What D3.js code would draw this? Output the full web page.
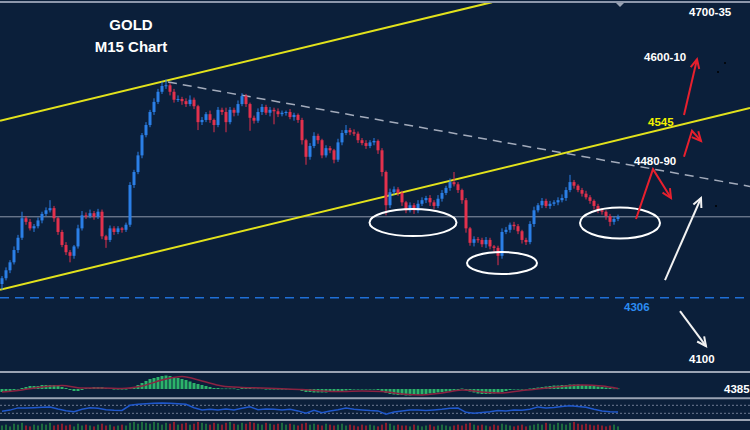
<!DOCTYPE html>
<html><head><meta charset="utf-8">
<script src="https://cdn.jsdelivr.net/npm/d3@7"></script>
<style>html,body{margin:0;padding:0;background:#0b1f3a;overflow:hidden}</style>
</head><body>
<svg id="c" width="750" height="430"></svg>
<script>
// ---- data (prices, M15 candles) ----
const firstOpen = 4325;
const closes = [
4333,4344,4355,4372,4389,4416,4411,4402,4405,4413,
4422,4427,4430,4416,4397,4379,4369,4364,4377,4402,
4420,4419,4423,4418,4425,4391,4386,4402,4397,4402,
4400,4407,4462,4480,4503,4531,4545,4563,4577,4591,
4599,4600,4591,4580,4581,4578,4574,4580,4571,4549,
4552,4560,4552,4545,4566,4563,4549,4566,4562,4574,
4585,4574,4555,4551,4563,4570,4562,4566,4564,4560,
4562,4563,4556,4559,4552,4524,4501,4516,4530,4524,
4503,4513,4510,4497,4521,4534,4538,4535,4533,4524,
4520,4516,4521,4523,4510,4480,4434,4452,4456,4451,
4438,4427,4434,4427,4436,4441,4444,4438,4433,4443,
4451,4458,4466,4463,4455,4441,4402,4382,4387,4386,
4380,4386,4377,4375,4364,4397,4400,4407,4405,4398,
4386,4383,4408,4427,4434,4440,4433,4436,4438,4441,
4444,4455,4466,4461,4455,4450,4445,4440,4433,4427,
4425,4419,4411,4415,4418];
const wickHi = [
3,4,3,5,4,9,3,4,3,4, 3,4,11,3,2,3,4,3,2,5, 6,4,5,3,4,3,2,4,3,3,
2,3,4,3,5,3,4,3,5,4, 6,8,3,4,5,3,4,6,3,2, 4,3,5,2,4,3,6,4,3,5,
4,3,2,3,5,4,3,4,3,4, 3,2,4,3,2,3,2,4,5,3, 2,4,3,2,5,4,7,3,4,3,
3,4,3,4,2,3,2,5,4,3, 3,2,4,3,5,4,3,4,3,5, 4,3,5,14,3,2,3,2,4,3,
3,4,3,2,3,5,4,3,4,3, 2,3,4,5,3,4,3,4,3,4, 5,4,10,3,2,3,4,3,2,3,
3,2,3,4,3];
const wickLo = [
8,3,4,3,4,3,4,3,5,3, 4,3,3,5,4,3,4,9,4,3, 3,4,3,4,3,4,11,3,4,3,
4,3,3,4,3,4,3,3,4,3, 3,4,5,4,3,5,4,3,4,11, 4,3,4,10,3,4,14,3,5,4,
3,4,18,4,3,4,3,5,18,4, 3,4,3,5,4,6,11,4,3,5, 4,3,4,5,3,4,3,4,3,4,
3,4,3,4,5,6,14,4,3,4, 5,4,3,5,4,3,4,5,4,3, 4,3,4,3,4,5,6,4,5,4,
4,5,4,5,13,4,3,4,5,4, 5,4,3,4,3,4,3,4,3,4, 3,4,3,4,3,4,3,4,5,4,
4,5,6,4,3];
const volumes = [
5,6,4,7,6,8,5,4,6,5,7,6,8,5,6,7,5,6,4,7,5,6,5,4,6,7,5,6,4,5,6,5,
8,9,7,9,8,7,9,8,6,8,7,9,6,7,8,6,7,9,8,7,6,8,7,6,8,9,7,6,8,7,9,8,7,6,8,7,6,7,8,6,7,6,5,
7,8,6,7,6,5,7,6,5,6,7,5,6,5,4,6,5,6,5,4,6,8,7,5,6,5,
5,4,6,5,4,5,6,4,5,6,5,4,5,6,5,7,8,6,5,6,5,4,6,5,7,6,5,4,5,6,4,5,6,
7,6,8,7,6,8,7,6,8,9,7,6,7,6,5,6,5,4,5,6,4];
const macdHist = [
-3,-3,-2,-1,0, 1,2,3,3,3,4,4,4,4,3,2,1, -1,-2,-2,-1, 1,1,2,2,2,1,1,0, 0,0,0,
1,2,4,6,8,10,11,12,13,13.5,13,12,11,10,9,7.5,6,5,4,3,2,
1,1,0.5,0.5,0.5,0.5,0, 1,1.5,1, 0.5,0.5,0.5,0,0,0,0,0,0,0,-0.5,-1,
-2,-3,-3,-3.5,-3.5,-3.5,-3.5,-3,-3,-2.5,-2,-1.5,-1, -0.5,0,0,0,0,-0.5,
-1,-2,-4,-5,-5.5,-6,-6,-6.5,-6.5,-6,-6,-5.5,-5,-4.5,-4,-3.5,-3,-2.5,-2,-1.5,-1,
0.5,-1,-2.5,-3.5,-4.5,-5,-5,-5,-4.5,-4,-3,-2,-1,-0.5, 0,0,0,0.5,1,
1.5,2,2.5,3,3.5,3.5,4,4,4.5,4.5,4.5,4,4,3.5,3,2.5,2,1.5,1,0.5,0.5];
const signalIdx = [0,5,10,15,20,25,30,35,40,45,50,55,60,65,70,75,80,85,90,95,100,105,110,115,120,125,130,135,140,145,150,154];
const signalVal = [-3,-1,2,3.5,1,1,0.5,3,9,12.5,8,3,1.5,1,0.3,-0.5,-2,-2.5,-2,-2.5,-5,-6,-4,-1,-3,-4,-1.5,0.5,2.5,4,3,0.5];
const rsiVals = [
40,46,57,56,58,60,62,52,43,38, 50,58,55,48,45,44,70,75,78,80,
82,80,78,75,58,47,50,46,52,47, 55,63,48,52,50,47,50,42,30,45,
33,42,48,56,50,47,44,42,25,36, 42,47,46,44,47,50,55,56,35,30,
34,38,44,42,47,45,50,62,57,59, 64,68,64,60,50,42,38,36];
const rsiLevels = [70, 30];
const currentPrice = 4418;
const supportLevel = 4306;
// analysis drawings, [candle index, price]
const upperChannel = [[-0.5, 4551], [122.5, 4715]];
const lowerChannel = [[-0.5, 4317], [187, 4568.5]];
const trendLine = [[41.5, 4604.5], [187, 4460]];
const zones = [[102.75, 4410, 43.5, 13.5], [125, 4354, 35, 11], [154.5, 4409.4, 40, 15.5]];
const redPaths = [
  [[158.5, 4415], [162.75, 4484], [167.25, 4444]],
  [[170.5, 4559], [173.75, 4636]],
  [[170.5, 4501], [172.5, 4537], [174.75, 4523]]];
const whitePaths = [
  [[165.75, 4330.5], [174.75, 4444]],
  [[169.5, 4287.6], [176, 4239]]];
const titleLines = ["GOLD", "M15 Chart"];
const labels = [
  {t:"4700-35", c:"#ffffff"}, {t:"4600-10", c:"#ffffff"}, {t:"4545", c:"#f2f200"},
  {t:"4480-90", c:"#ffffff"}, {t:"4306", c:"#2b8cf2"}, {t:"4100", c:"#ffffff"}, {t:"4385", c:"#ffffff"}];

// ---- layout ----
const W = 750, H = 430;
const svg = d3.select("#c");
const x = d3.scaleLinear().domain([0, closes.length - 1]).range([2, 618]);
const y = d3.scaleLinear().domain([4206, 4718]).range([370, 0]);
const yh = d3.scaleLinear().domain([-9, 17]).range([398, 372]);
const yr = d3.scaleLinear().domain([0, 100]).range([419.3, 399.3]);
const yv = d3.scaleLinear().domain([0, 10]).range([430, 421]);

svg.append("rect").attr("width", W).attr("height", H).attr("fill", "#0b1f3a");
svg.append("defs").append("clipPath").attr("id","main").append("rect").attr("x",0).attr("y",3).attr("width",W).attr("height",367);
const main = svg.append("g").attr("clip-path","url(#main)");

// horizontal lines
main.append("line").attr("x1",0).attr("x2",W).attr("y1",y(currentPrice)).attr("y2",y(currentPrice))
  .attr("stroke","#8d97aa").attr("stroke-width",1);
main.append("line").attr("x1",0).attr("x2",W).attr("y1",y(supportLevel)).attr("y2",y(supportLevel))
  .attr("stroke","#1f6fd6").attr("stroke-width",1.5).attr("stroke-dasharray","9,6");

const line = d3.line().x(d => x(d[0])).y(d => y(d[1]));
main.append("path").attr("d", line(upperChannel)).attr("stroke","#e2e21c").attr("stroke-width",2).attr("fill","none");
main.append("path").attr("d", line(lowerChannel)).attr("stroke","#e2e21c").attr("stroke-width",2).attr("fill","none");
main.append("path").attr("d", line(trendLine)).attr("stroke","#a3abbb").attr("stroke-width",1.5)
  .attr("stroke-dasharray","9,6").attr("fill","none");

// candles
const candles = closes.map((c, i) => {
  const o = i === 0 ? firstOpen : closes[i - 1];
  return {i, o, c, h: Math.max(o, c) + wickHi[i], l: Math.min(o, c) - wickLo[i]};
});
const upC = "#2b7fe6", dnC = "#e3314d";
const cg = main.append("g");
cg.selectAll("line").data(candles).join("line")
  .attr("x1", d => x(d.i)).attr("x2", d => x(d.i))
  .attr("y1", d => y(d.h)).attr("y2", d => y(d.l))
  .attr("stroke", d => d.c >= d.o ? upC : dnC).attr("stroke-width", 1);
cg.selectAll("rect").data(candles).join("rect")
  .attr("x", d => x(d.i) - 1.5).attr("width", 3)
  .attr("y", d => y(Math.max(d.o, d.c)))
  .attr("height", d => Math.max(1, y(Math.min(d.o, d.c)) - y(Math.max(d.o, d.c))))
  .attr("fill", d => d.c >= d.o ? upC : dnC);

// zones
main.selectAll("ellipse").data(zones).join("ellipse")
  .attr("cx", d => x(d[0])).attr("cy", d => y(d[1])).attr("rx", d => d[2]).attr("ry", d => d[3])
  .attr("fill","none").attr("stroke","#ffffff").attr("stroke-width",2);

// arrows
function arrow(pts, color) {
  const p = pts.map(d => [x(d[0]), y(d[1])]);
  main.append("path").attr("d", d3.line()(p)).attr("stroke", color).attr("stroke-width", 2)
    .attr("fill","none").attr("stroke-linejoin","miter");
  const [x1, y1] = p[p.length - 2], [x2, y2] = p[p.length - 1];
  const a = Math.atan2(y2 - y1, x2 - x1), L = 10;
  const h1 = [x2 - L * Math.cos(a - 0.45), y2 - L * Math.sin(a - 0.45)];
  const h2 = [x2 - L * Math.cos(a + 0.45), y2 - L * Math.sin(a + 0.45)];
  main.append("path").attr("d", d3.line()([h1, [x2, y2], h2])).attr("stroke", color)
    .attr("stroke-width", 2).attr("fill","none");
}
redPaths.forEach(p => arrow(p, "#e8202e"));
whitePaths.forEach(p => arrow(p, "#f2f2f2"));

// tiny marks
[[716,206],[718,72],[725,63]].forEach(d => main.append("circle").attr("cx",d[0]).attr("cy",d[1]).attr("r",1).attr("fill","#000"));

// title
const ff = "Arial, 'Liberation Sans', sans-serif";
svg.selectAll("text.title").data(titleLines).join("text").attr("class","title")
  .attr("x", 131).attr("y", (d, k) => 30 + k * 22).attr("text-anchor","middle")
  .attr("font-family", ff).attr("font-weight","bold").attr("font-size", 15).attr("fill","#ffffff").text(d => d);

const labelPos = [[689,16],[644,61],[648,126],[634,165],[624,311],[689,363],[724,393]];
svg.selectAll("text.lbl").data(labels).join("text").attr("class","lbl")
  .attr("x", (d, k) => labelPos[k][0]).attr("y", (d, k) => labelPos[k][1])
  .attr("font-family", ff).attr("font-weight","bold").attr("font-size", 11.5).attr("fill", d => d.c).text(d => d.t);

// MACD panel
svg.append("g").selectAll("rect").data(macdHist).join("rect")
  .attr("x", (d, i) => x(i) - 1.5).attr("width", 3)
  .attr("y", d => Math.min(yh(d), yh(0))).attr("height", d => Math.max(0.6, Math.abs(yh(d) - yh(0))))
  .attr("fill", "#2cb36a");
svg.append("path").attr("d", d3.line().x((d, k) => x(signalIdx[k])).y(d => yh(d)).curve(d3.curveMonotoneX)(signalVal))
  .attr("stroke","#8c2342").attr("stroke-width",1.5).attr("fill","none");

// RSI panel
rsiLevels.forEach(v => svg.append("line").attr("x1",0).attr("x2",W).attr("y1",yr(v)).attr("y2",yr(v))
  .attr("stroke","#6d7a93").attr("stroke-width",1).attr("stroke-dasharray","2,2"));
svg.append("path").attr("d", d3.line().x((d, k) => x(k * 2)).y(d => yr(d))(rsiVals))
  .attr("stroke","#1f58cc").attr("stroke-width",1.5).attr("fill","none");

// volume strip
svg.append("g").selectAll("rect").data(candles).join("rect")
  .attr("x", d => x(d.i) - 1).attr("width", 2)
  .attr("y", d => yv(volumes[d.i])).attr("height", d => yv(0) - yv(volumes[d.i]))
  .attr("fill", d => d.c >= d.o ? "#1d6a3e" : "#8a1e2e");

// separators and frame
[372, 398.3, 420].forEach(v => svg.append("line").attr("x1",0).attr("x2",W).attr("y1",v).attr("y2",v)
  .attr("stroke","#9aa3b3").attr("stroke-width",2));
svg.append("line").attr("x1",0).attr("x2",W).attr("y1",2).attr("y2",2).attr("stroke","#8d97ab").attr("stroke-width",2);
svg.append("path").attr("d","M616,3 L624,3 L620,7 Z").attr("fill","#9aa3b3");
</script>
</body></html>
